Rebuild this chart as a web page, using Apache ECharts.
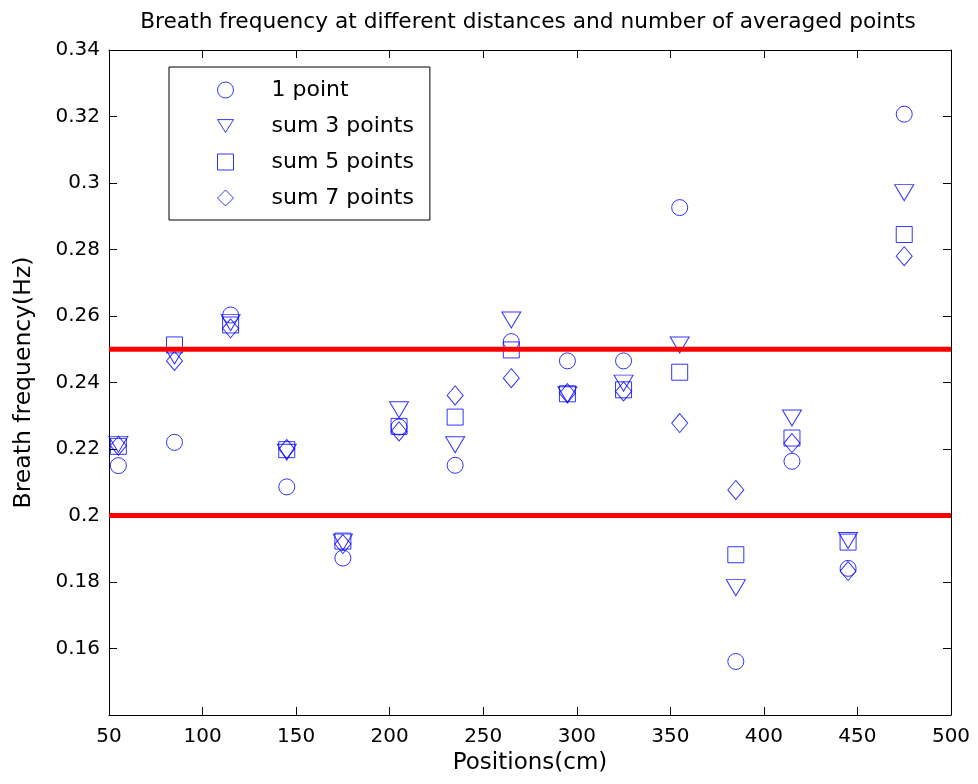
<!DOCTYPE html>
<html>
<head>
<meta charset="utf-8">
<script src="https://cdn.jsdelivr.net/npm/echarts@6/dist/echarts.min.js"></script>
<style>html,body{margin:0;padding:0;background:#fff}#c{width:978px;height:784px}</style>
</head>
<body>
<div id="c"></div>
<script>
const positions = [55, 85, 115, 145, 175, 205, 235, 265, 295, 325, 355, 385, 415, 445, 475];
const onePoint  = [0.2150, 0.2220, 0.2603, 0.2086, 0.1872, 0.2266, 0.2151, 0.2523, 0.2465, 0.2465, 0.2926, 0.1561, 0.2163, 0.1841, 0.3207];
const sum3      = [0.2214, 0.2480, 0.2580, 0.2190, 0.1920, 0.2318, 0.2213, 0.2588, 0.2363, 0.2398, 0.2513, 0.1783, 0.2293, 0.1925, 0.2971];
const sum5      = [0.2208, 0.2513, 0.2573, 0.2198, 0.1923, 0.2268, 0.2296, 0.2498, 0.2366, 0.2378, 0.2431, 0.1882, 0.2233, 0.1920, 0.2845];
const sum7      = [0.2210, 0.2465, 0.2563, 0.2200, 0.1914, 0.2253, 0.2361, 0.2413, 0.2368, 0.2373, 0.2278, 0.2077, 0.2218, 0.1833, 0.2780];
const seriesNames = ['1 point', 'sum 3 points', 'sum 5 points', 'sum 7 points'];
const limits = [0.25, 0.2];
const xRange = [50, 500];

const FONT = 'DejaVu Sans';
const BLUE = '#0000ff';
function pts(vals){ return positions.map((x,i)=>[x, vals[i]]); }
const markerStyle = {color:'rgba(0,0,0,0)', borderColor: BLUE, borderWidth: 1};
const symbols = [
  {symbol:'circle', size:16},
  {symbol:'path://M0,0L20,0L10,16Z', size:[19,16]},
  {symbol:'rect', size:16},
  {symbol:'diamond', size:[16,19]}
];
const allVals = [onePoint, sum3, sum5, sum7];
const series = allVals.map((v,i)=>({
  name: seriesNames[i], type:'scatter', data: pts(v),
  symbol: symbols[i].symbol, symbolSize: symbols[i].size,
  itemStyle: markerStyle, z: 2, animation:false
}));
limits.forEach(l=>series.push({
  type:'line', data: xRange.map(x=>[x,l]), symbol:'none', silent:true,
  lineStyle:{color:'#ff0000', width:5}, z:5, animation:false
}));

const axisCommon = {
  axisLine:{show:true, lineStyle:{color:'#000', width:1}},
  axisTick:{show:true, inside:true, length:8, lineStyle:{color:'#000'}},
  splitLine:{show:false}
};
const chart = echarts.init(document.getElementById('c'));
chart.setOption({
  animation:false,
  backgroundColor:'#fff',
  title:{text:'Breath frequency at different distances and number of averaged points',
    left:523, top:6, textAlign:'center',
    textStyle:{fontFamily:FONT, fontSize:21.7, fontWeight:'normal', color:'#000'}},
  grid:{left:109, right:27, top:50, bottom:69, outerBoundsMode:'none', containLabel:false},
  legend:{
    data: seriesNames.map((n,i)=>({name:n, icon:symbols[i].symbol})),
    orient:'vertical', left:169, top:67,
    itemWidth:16, itemHeight:16, itemGap:14,
    padding:[12,16,11,48],
    borderColor:'#000', borderWidth:1, backgroundColor:'#fff',
    textStyle:{fontFamily:FONT, fontSize:22, color:'#000', padding:[0,0,0,33]},
    itemStyle: markerStyle
  },
  xAxis:[
    Object.assign({type:'value', min:50, max:500, interval:50, position:'bottom',
      name:'Positions(cm)', nameLocation:'middle', nameGap:37,
      nameTextStyle:{fontFamily:FONT, fontSize:23, color:'#000'},
      axisLabel:{fontFamily:FONT, fontSize:20, color:'#000', margin:12}}, axisCommon),
    Object.assign({type:'value', min:50, max:500, interval:50, position:'top',
      axisLabel:{show:false}}, axisCommon)
  ],
  yAxis:[
    Object.assign({type:'value', min:0.14, max:0.34, interval:0.02, position:'left',
      name:'Breath frequency(Hz)', nameLocation:'middle', nameGap:73,
      nameTextStyle:{fontFamily:FONT, fontSize:23.5, color:'#000'},
      axisLabel:{fontFamily:FONT, fontSize:20, color:'#000', margin:9,
        formatter: v => (Math.abs(v-0.14)<1e-9 ? '' : String(+v.toFixed(2)))}}, axisCommon),
    Object.assign({type:'value', min:0.14, max:0.34, interval:0.02, position:'right',
      axisLabel:{show:false}}, axisCommon)
  ],
  series: series
});
</script>
</body>
</html>
